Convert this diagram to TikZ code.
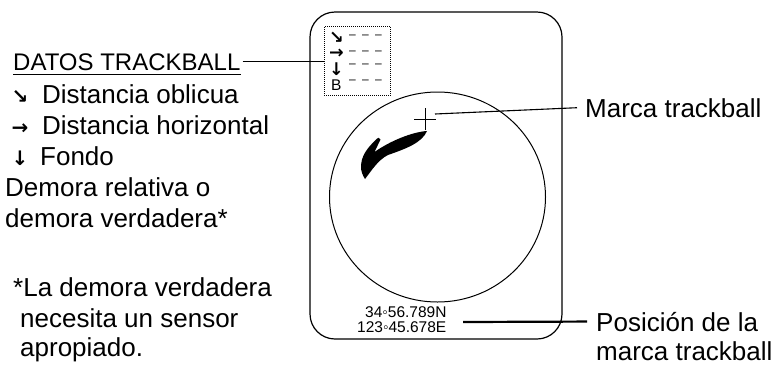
\documentclass[tikz,border=0pt]{standalone}
\usepackage{fontspec}
\setmainfont{Liberation Sans}
\newfontfamily\symfont{DejaVu Sans}[BoldFont={DejaVu Sans Bold}]
\begin{document}
\begin{tikzpicture}[x=1bp,y=-1bp,
  txt/.style={inner sep=0pt, anchor=base west, font=\fontsize{26bp}{30bp}\selectfont},
  heading/.style={inner sep=0pt, anchor=base west, font=\fontsize{24bp}{28bp}\selectfont},
  readout/.style={inner sep=0pt, anchor=base west, font=\fontsize{15.5bp}{17bp}\selectfont},
  glyph/.style={inner sep=0pt, anchor=base west, font=\fontsize{20bp}{21bp}\symfont\bfseries},
  boxglyph/.style={inner sep=0pt, anchor=base west, font=\fontsize{17.5bp}{18bp}\symfont\bfseries},
  blank/.style={inner sep=0pt, anchor=base west, font=\fontsize{12bp}{13bp}\selectfont},
  leader/.style={line width=1.4bp},
  outline/.style={line width=1.2bp}]
\useasboundingbox (0,0) rectangle (778,365);

% display outline and echo circle
\draw[outline, rounded corners=25bp] (310,12) rectangle (562,339);
\draw[line width=1bp] (437.5,197) ellipse [x radius=108bp, y radius=105bp];

% trackball data window
\node[draw, line width=0.9bp, dash pattern=on 0.9bp off 1.1bp,
      minimum width=66bp, minimum height=69bp, inner sep=0pt, anchor=north west]
      (databox) at (324,26) {};
\node[boxglyph] (bslant) at (329,43.5) {↘};
\node[boxglyph] (bhoriz) at (329,58) {→};
\node[boxglyph] (bdown)  at (329,75.5) {↓};
\node[readout] (bbear) at (331,90) {B};
\node[blank] (dslant) at (349,38.5) {–\hspace{6.3bp}–\hspace{6.3bp}–};
\node[blank] (dhoriz) at (349,54.9) {–\hspace{6.3bp}–\hspace{6.3bp}–};
\node[blank] (ddown)  at (349,67.2) {–\hspace{6.3bp}–\hspace{6.3bp}–};
\node[blank] (dbear)  at (349,83.9) {–\hspace{6.3bp}–\hspace{6.3bp}–};

% echo trace
\fill (427,131)
  .. controls (412,132) and (390,141) .. (374.5,152)
  -- (380.5,139.5)
  .. controls (379.5,137) and (377.5,137.5) .. (376.5,139)
  .. controls (372,144) and (362,152) .. (361,165)
  .. controls (360.5,171) and (363,176) .. (365,179)
  .. controls (372,170) and (378,160) .. (388,155)
  .. controls (405,149) and (422,143) .. (427,131) -- cycle;

% trackball mark
\coordinate (mark) at (425,119);
\draw[line width=1bp] (mark) +(-11,0) -- +(11,0) (mark) +(0,-11) -- +(0,11);
\coordinate (markend) at (435,114);

% latitude / longitude readout
\node[readout] (lat) at (365,317.5) {34◦56.789N};
\node[readout] (lon) at (357,332) {123◦45.678E};
\coordinate (posstart) at (463,322);

% left legend
\node[heading] (datos) at (13,70) {DATOS TRACKBALL};
\draw[line width=1bp] ([yshift=-4bp]datos.base west) -- ([yshift=-4bp]datos.base east);
\node[glyph] (lslant) at (11.5,103.5) {↘};
\node[txt] (oblicua) at (42,103) {Distancia oblicua};
\node[glyph] (lhoriz) at (11.5,134.5) {→};
\node[txt] (horiz) at (42,134) {Distancia horizontal};
\node[glyph] (ldown) at (11.5,165.5) {↓};
\node[txt] (fondo) at (40,165) {Fondo};
\node[txt] (demora1) at (5,196) {Demora relativa o};
\node[txt] (demora2) at (5,227) {demora verdadera*};
\node[txt] (nota1) at (13,296.5) {*La demora verdadera};
\node[txt] (nota2) at (20,327) {necesita un sensor};
\node[txt] (nota3) at (20,356.5) {apropiado.};

% right labels
\node[txt] (marcalbl) at (585,117) {Marca trackball};
\node[txt] (poslbl1) at (596,331) {Posición de la};
\node[txt] (poslbl2) at (596,360) {marca trackball};

% leaders
\draw[leader] ([xshift=2bp]datos.east) -- (datos.east -| databox.west);
\draw[line width=1.1bp] (markend) -- ([xshift=-8bp]marcalbl.west);
\draw[line width=2.2bp] (posstart) -- ([xshift=-9bp]poslbl1.west);
\end{tikzpicture}
\end{document}
